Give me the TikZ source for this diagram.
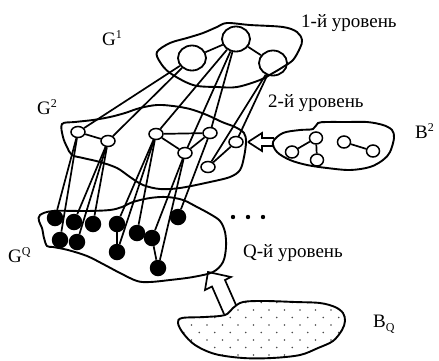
\documentclass[tikz,border=0pt]{standalone}
\usepackage{fontspec}
\setmainfont{Liberation Serif}
\usetikzlibrary{shapes.geometric}
\newcommand{\mysup}[1]{\raisebox{7pt}{\fontsize{12}{12}\selectfont #1}}
\newcommand{\mysub}[1]{\raisebox{-4pt}{\fontsize{12}{12}\selectfont #1}}
\begin{document}
\begin{tikzpicture}[x=1pt,y=-1pt,
  big/.style={ellipse,draw,line width=1.8pt,minimum width=28pt,minimum height=25pt,inner sep=0pt},
  mid/.style={ellipse,draw,line width=1.5pt,minimum width=14pt,minimum height=11pt,inner sep=0pt,fill=white},
  bnode/.style={ellipse,draw,line width=1.5pt,minimum width=13pt,minimum height=12pt,inner sep=0pt},
  blk/.style={circle,fill=black,minimum size=16.5pt,inner sep=0pt},
  conn/.style={line width=1.7pt},
  blob/.style={line width=1.9pt},
  lbl/.style={anchor=base west,inner sep=0pt,font=\fontsize{19}{19}\selectfont}]
\useasboundingbox (0,0) rectangle (439,360);

% ---- blobs ----
\draw[blob] plot[smooth cycle,tension=0.55] coordinates {
 (157,52) (170,43) (187,38) (203,33) (217,27) (227,23) (250,25) (283,27) (297,32)
 (302,40) (300,48) (293,60) (283,67) (273,73) (260,80) (237,87) (217,87) (193,85)
 (170,73) (160,62)};
\draw[blob] plot[smooth cycle,tension=0.55] coordinates {
 (62,124) (75,122) (93,120) (110,117) (125,113) (140,108) (157,105) (173,106)
 (190,109) (207,115) (222,122) (235,127) (244,133) (246,142) (244,157) (240,170)
 (230,177) (210,182) (180,188) (160,189) (143,185) (130,177) (117,168) (100,162)
 (83,158) (72,155) (67,147) (63,137)};
\draw[blob] plot[smooth cycle,tension=0.55] coordinates {
 (40,215) (53,211) (87,211) (110,210) (122,207) (133,202) (150,198) (167,197)
 (183,200) (197,207) (210,214) (220,221) (225,232) (226,247) (223,262) (213,272)
 (193,277) (170,280) (150,282) (137,281) (120,273) (103,264) (87,256) (68,250)
 (53,247) (47,246) (44,238) (42,228) (39,221)};
\draw[blob] plot[smooth cycle,tension=0.55] coordinates {
 (273,142) (283,133) (300,130) (313,129) (318,123) (327,122) (347,122) (367,122)
 (383,125) (392,130) (394,138) (390,152) (383,160) (370,167) (350,170) (327,168)
 (307,165) (290,160) (277,152)};
\begin{scope}
\clip plot[smooth cycle,tension=0.55] coordinates {
 (182,318) (205,317) (225,315) (233,308) (243,302) (265,301) (295,302) (320,303)
 (335,307) (343,313) (345,321) (342,330) (333,341) (318,348) (300,355) (272,358)
 (243,358) (215,354) (195,345) (183,333) (178,323)};
\foreach \j in {0,...,9}{
  \foreach \i in {0,...,12}{
    \pgfmathsetmacro{\dx}{176+15.5*\i+mod(\j+1,2)*7.75}
    \pgfmathsetmacro{\dy}{302.5+7.5*\j}
    \fill[black!70] (\dx,\dy) circle (0.85);
  }}
\end{scope}
\draw[blob] plot[smooth cycle,tension=0.55] coordinates {
 (182,318) (205,317) (225,315) (233,308) (243,302) (265,301) (295,302) (320,303)
 (335,307) (343,313) (345,321) (342,330) (333,341) (318,348) (300,355) (272,358)
 (243,358) (215,354) (195,345) (183,333) (178,323)};

% ---- level 1 nodes ----
\node[big] (A) at (192,58) {};
\node[big] (B) at (236,39) {};
\node[big] (C) at (273,63) {};
\draw[conn] (A) -- (B) -- (C);

% ---- level 2 nodes ----
\node[mid] (n1) at (78,132) {};
\node[mid] (n2) at (108,141) {};
\node[mid] (n3) at (156,134) {};
\node[mid] (n4) at (210,133) {};
\node[mid] (n5) at (185,153) {};
\node[mid] (n6) at (236,142) {};
\node[mid] (n7) at (208,167) {};
\draw[conn] (n1) -- (n2);
\draw[conn] (n3) -- (n4);
\draw[conn] (n3) -- (n5) -- (n4);
\draw[conn] (n6) -- (n7);

% ---- level Q nodes ----
\node[blk] (q1) at (55,218) {};
\node[blk] (q2) at (74,222) {};
\node[blk] (q3) at (93,224) {};
\node[blk] (q4) at (60,240) {};
\node[blk] (q5) at (77,242) {};
\node[blk] (q6) at (117,224) {};
\node[blk] (q7) at (137,233) {};
\node[blk] (q8) at (152,238) {};
\node[blk] (q9) at (117,252) {};
\node[blk] (q10) at (178,217) {};
\node[blk] (q11) at (158,268) {};
\draw[conn] (q6) -- (q9);
\draw[conn] (q8) -- (q11);

% ---- level 1 -> level 2 ----
\draw[conn] (A) -- (n1);
\draw[conn] (A) -- (n2);
\draw[conn] (B) -- (n3);
\draw[conn] (B) -- (n5);
\draw[conn] (B) -- (n4);
\draw[conn] (C) -- (n7);
\draw[conn] (C) -- (n6);

% ---- level 2 -> level Q ----
\draw[conn] (n1) -- (q1);
\draw[conn] (n1) -- (q4);
\draw[conn] (n2) -- (q2);
\draw[conn] (n2) -- (q5);
\draw[conn] (n2) -- (q3);
\draw[conn] (n3) -- (q6);
\draw[conn] (n3) -- (q9);
\draw[conn] (n3) -- (q7);
\draw[conn] (n5) -- (q8);
\draw[conn] (n5) -- (q11);
\draw[conn] (n4) -- (q10);

% ---- B2 nodes ----
\node[bnode] (b1) at (316,138) {};
\node[bnode] (b2) at (292,152) {};
\node[bnode] (b3) at (317,160) {};
\node[bnode] (b4) at (344,142) {};
\node[bnode] (b5) at (373,151) {};
\draw[conn] (b1) -- (b2);
\draw[conn] (b1) -- (b3);
\draw[conn] (b4) -- (b5);

% ---- hollow arrows ----
\coordinate (a1tip) at (248,142);
\draw[conn,line join=miter] (a1tip) -- ++(14,-9) -- ++(0,5) -- ++(12,0);
\draw[conn,line join=miter] (a1tip) -- ++(14,9) -- ++(0,-5) -- ++(12,0);
\coordinate (a2tip) at (208,272);
\draw[conn,line join=miter] (236,305) -- (225,280) -- (231,277) -- (a2tip)
  -- (205,290) -- (212,286.5) -- (224,314);

% ---- dots ----
\fill (233,217) circle (2.2);
\fill (248,217) circle (2.2);
\fill (263,217) circle (2.2);

% ---- labels ----
\node[lbl] (g1) at (102,45) {G\mysup{1}};
\node[lbl] (g2) at (37,114) {G\mysup{2}};
\node[lbl] (gq) at (8,262) {G\mysup{Q}};
\node[lbl] (bb2) at (415,138) {B\mysup{2}};
\node[lbl] (bbq) at (373,327) {B\mysub{Q}};
\node[lbl] (l1) at (301,27) {1-й уровень};
\node[lbl] (l2) at (268,107) {2-й уровень};
\node[lbl] (lq) at (243,257) {Q-й уровень};
\end{tikzpicture}
\end{document}
